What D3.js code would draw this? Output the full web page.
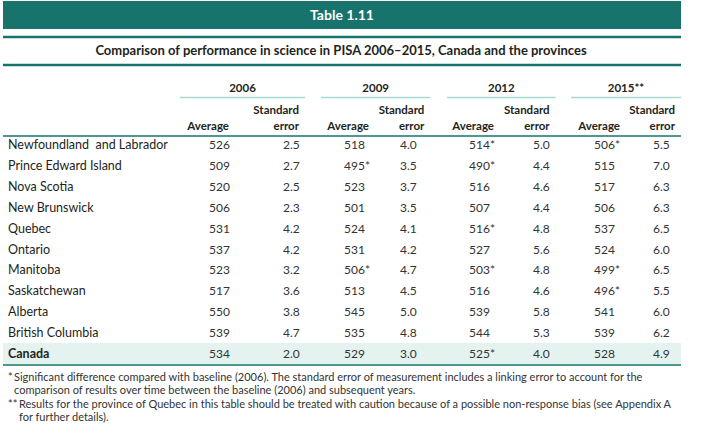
<!DOCTYPE html>
<html>
<head>
<meta charset="utf-8">
<script src="https://cdn.jsdelivr.net/npm/d3@7"></script>
<style>
  body { margin: 0; background: #fff; }
  svg text { font-family: Lato, "Open Sans", sans-serif; fill: #231f20; white-space: pre; }
</style>
</head>
<body>
<svg id="chart" width="711" height="444"></svg>
<script>
// Table data
const provinces = ["Newfoundland  and Labrador", "Prince Edward Island", "Nova Scotia", "New Brunswick",
    "Quebec", "Ontario", "Manitoba", "Saskatchewan", "Alberta", "British Columbia", "Canada"];
const years = ["2006", "2009", "2012", "2015**"];

const avg2006 = [526, 509, 520, 506, 531, 537, 523, 517, 550, 539, 534];
const se2006  = [2.5, 2.7, 2.5, 2.3, 4.2, 4.2, 3.2, 3.6, 3.8, 4.7, 2.0];
const avg2009 = [518, 495, 523, 501, 524, 531, 506, 513, 545, 535, 529];
const se2009  = [4.0, 3.5, 3.7, 3.5, 4.1, 4.2, 4.7, 4.5, 5.0, 4.8, 3.0];
const avg2012 = [514, 490, 516, 507, 516, 527, 503, 516, 539, 544, 525];
const se2012  = [5.0, 4.4, 4.6, 4.4, 4.8, 5.6, 4.8, 4.6, 5.8, 5.3, 4.0];
const avg2015 = [506, 515, 517, 506, 537, 524, 499, 496, 541, 539, 528];
const se2015  = [5.5, 7.0, 6.3, 6.3, 6.5, 6.0, 6.5, 5.5, 6.0, 6.2, 4.9];

// significant difference compared with 2006 (marked *)
const sig2009 = [false, true, false, false, false, false, true, false, false, false, false];
const sig2012 = [true, true, false, false, true, false, true, false, false, false, true];
const sig2015 = [true, false, false, false, false, false, true, true, false, false, false];

const title = "Table 1.11";
const subtitle = "Comparison of performance in science in PISA 2006\u20132015, Canada and the provinces";
const footnotes = [
    ["*", "Significant difference compared with baseline (2006). The standard error of measurement includes a linking error to account for the"],
    ["", "comparison of results over time between the baseline (2006) and subsequent years."],
    ["**", "Results for the province of Quebec in this table should be treated with caution because of a possible non-response bias (see Appendix A"],
    ["", "for further details)."]
];

const columns = [
    { values: avg2006, sig: null, fmt: d3.format("d") },
    { values: se2006, sig: null, fmt: d3.format(".1f") },
    { values: avg2009, sig: sig2009, fmt: d3.format("d") },
    { values: se2009, sig: null, fmt: d3.format(".1f") },
    { values: avg2012, sig: sig2012, fmt: d3.format("d") },
    { values: se2012, sig: null, fmt: d3.format(".1f") },
    { values: avg2015, sig: sig2015, fmt: d3.format("d") },
    { values: se2015, sig: null, fmt: d3.format(".1f") }
];

const teal = "#17736b";
const lightTeal = "#a9d9d5";
const left = 3, right = 681;

const svg = d3.select("#chart");

// Scales
const groupRight = d3.scalePoint().domain(years).range([305, 681]);
const groupLeft = d3.scaleOrdinal().domain(years).range([180, 321, 447, 571]);
const avgRight = d3.scaleOrdinal().domain(years).range([229, 369, 494, 620]);
const numX = d3.scaleOrdinal().domain(d3.range(8)).range([209, 283, 344, 400, 469, 533, 594, 653]);
const rowY = d3.scalePoint().domain(provinces).range([145, 354]);

// Banner
svg.append("rect")
    .attr("x", left).attr("y", 1)
    .attr("width", right - left).attr("height", 28)
    .attr("fill", teal);
svg.append("text")
    .attr("x", (left + right) / 2).attr("y", 20)
    .attr("text-anchor", "middle")
    .style("font-size", "14px").style("font-weight", "bold").style("fill", "#fff")
    .text(title);

// Subtitle between two rules
[37, 65].forEach(y => {
    svg.append("line")
        .attr("x1", left).attr("x2", right)
        .attr("y1", y).attr("y2", y)
        .attr("stroke", teal).attr("stroke-width", 2.5);
});
svg.append("text")
    .attr("x", 341).attr("y", 55)
    .attr("text-anchor", "middle")
    .style("font-size", "13px").style("font-weight", "bold")
    .text(subtitle);

// Year headers
const yearG = svg.append("g").selectAll("g").data(years).enter().append("g");
yearG.append("text")
    .attr("x", d => (groupLeft(d) + groupRight(d)) / 2)
    .attr("y", 92)
    .attr("text-anchor", "middle")
    .style("font-size", "11.5px").style("font-weight", "bold")
    .text(d => d);
yearG.append("line")
    .attr("x1", d => groupLeft(d)).attr("x2", d => groupRight(d))
    .attr("y1", 97.5).attr("y2", 97.5)
    .attr("stroke", lightTeal).attr("stroke-width", 1.5);
yearG.append("text")
    .attr("x", d => avgRight(d)).attr("y", 130)
    .attr("text-anchor", "end")
    .style("font-size", "11.5px").style("font-weight", "bold")
    .text("Average");
yearG.append("text")
    .attr("x", d => groupRight(d) - 6).attr("y", 114)
    .attr("text-anchor", "end")
    .style("font-size", "11.5px").style("font-weight", "bold")
    .text("Standard");
yearG.append("text")
    .attr("x", d => groupRight(d) - 6).attr("y", 130)
    .attr("text-anchor", "end")
    .style("font-size", "11.5px").style("font-weight", "bold")
    .text("error");

svg.append("line")
    .attr("x1", left).attr("x2", right)
    .attr("y1", 136).attr("y2", 136)
    .attr("stroke", teal).attr("stroke-width", 1.5);

// Canada highlight row
const last = provinces[provinces.length - 1];
svg.append("rect")
    .attr("x", left).attr("y", rowY(last) - 11)
    .attr("width", right - left).attr("height", 21)
    .attr("fill", "#e4f2f0");
svg.append("line")
    .attr("x1", left).attr("x2", right)
    .attr("y1", rowY(last) + 11).attr("y2", rowY(last) + 11)
    .attr("stroke", teal).attr("stroke-width", 1.5);

// Rows
const rows = svg.append("g").selectAll("g")
    .data(provinces.map((p, i) => ({ name: p, i: i })))
    .enter().append("g")
    .attr("transform", d => `translate(0,${rowY(d.name) + 4})`);

rows.append("text")
    .attr("x", 8)
    .style("font-size", "12.5px")
    .style("font-weight", d => d.name === last ? "bold" : "normal")
    .text(d => d.name);

columns.forEach((col, c) => {
    rows.append("text")
        .attr("x", numX(c))
        .style("font-size", "12px")
        .style("fill", "#333")
        .text(d => col.fmt(col.values[d.i]) + (col.sig && col.sig[d.i] ? "*" : ""));
});

// Footnotes
const notes = svg.append("g").selectAll("g")
    .data(footnotes).enter().append("g")
    .attr("transform", (d, i) => `translate(0,${381 + i * 13.4})`);
notes.append("text")
    .attr("x", 8)
    .style("font-size", "11px").style("fill", "#333")
    .text(d => d[0]);
notes.append("text")
    .attr("x", (d, i) => i < 2 ? 14 : 19)
    .style("font-size", "11px").style("fill", "#333")
    .text(d => d[1]);
</script>
</body>
</html>
